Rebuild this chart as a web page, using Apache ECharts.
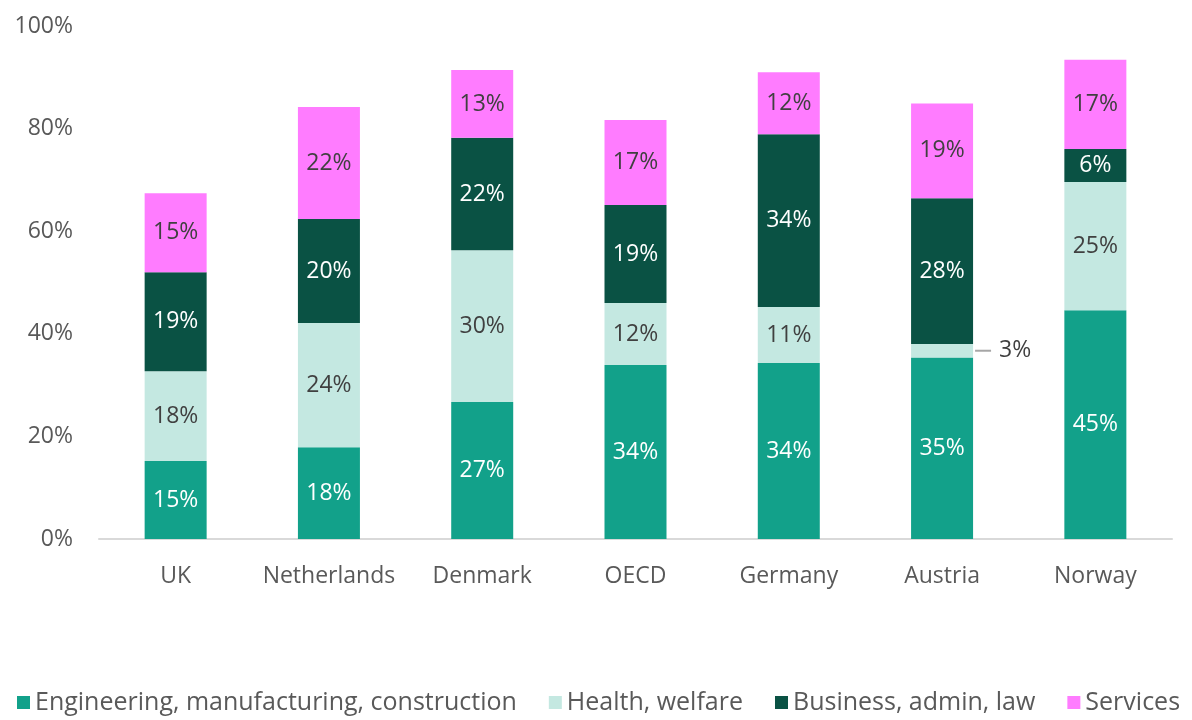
<!DOCTYPE html>
<html>
<head>
<meta charset="utf-8">
<script src="https://cdn.jsdelivr.net/npm/echarts@6/dist/echarts.min.js"></script>
<style>
  html, body { margin: 0; padding: 0; background: #fff; }
  #chart { width: 1192px; height: 720px; }
</style>
</head>
<body>
<div id="chart"></div>
<script>
const countries = ['UK', 'Netherlands', 'Denmark', 'OECD', 'Germany', 'Austria', 'Norway'];
const engineering = [15.2, 17.9, 26.7, 33.9, 34.3, 35.4, 44.6];
const health = [17.5, 24.2, 29.6, 12.1, 10.9, 2.6, 25.0];
const business = [19.3, 20.3, 21.9, 19.1, 33.7, 28.4, 6.4];
const services = [15.4, 21.8, 13.2, 16.6, 12.1, 18.5, 17.4];
const yTicks = [0, 20, 40, 60, 80, 100];

const font = 'Open Sans';
let chart = echarts.init(document.getElementById('chart'));

function series(name, data, color, labelColor) {
    return {
        name: name,
        type: 'bar',
        stack: 'total',
        barWidth: 62,
        data: data,
        itemStyle: { color: color },
        label: {
            show: true,
            position: 'inside',
            color: labelColor,
            fontFamily: font,
            fontSize: 23,
            formatter: (p) => Math.round(p.value) + '%',
        },
    };
}

let healthSeries = series('Health, welfare', health, '#c4e8e1', '#404040');
// small Austria slice: label sits to the right with a short leader line
healthSeries.data = health.map((v, i) => i === 5 ? {
    value: v,
    label: {
        position: 'right',
        distance: 2,
        formatter: (p) => '{line|}{txt|' + Math.round(p.value) + '%}',
        rich: {
            line: { width: 16, height: 2, backgroundColor: '#a6a6a6' },
            txt: { color: '#404040', fontSize: 23, fontFamily: font, padding: [0, 0, 0, 8] },
        },
    },
} : v);

chart.setOption({
    animation: false,
    grid: { left: 99, right: 20, top: 26, bottom: 181 },
    legend: {
        bottom: 0,
        left: 12,
        itemWidth: 13,
        itemHeight: 13,
        itemGap: 32,
        icon: 'rect',
        textStyle: { color: '#595959', fontSize: 25, fontFamily: font },
    },
    xAxis: {
        type: 'category',
        data: countries,
        axisTick: { show: false },
        axisLine: { lineStyle: { color: '#d9d9d9', width: 2 } },
        axisLabel: { color: '#595959', fontSize: 23, fontFamily: font, margin: 26, interval: 0 },
    },
    yAxis: {
        type: 'value',
        min: yTicks[0],
        max: yTicks[yTicks.length - 1],
        interval: 20,
        splitLine: { show: false },
        axisLabel: { color: '#595959', fontSize: 23, fontFamily: font, margin: 26, formatter: '{value}%' },
    },
    series: [
        series('Engineering, manufacturing, construction', engineering, '#12a18a', '#ffffff'),
        healthSeries,
        series('Business, admin, law', business, '#0a5244', '#ffffff'),
        series('Services', services, '#ff7cff', '#404040'),
    ],
});
</script>
</body>
</html>
